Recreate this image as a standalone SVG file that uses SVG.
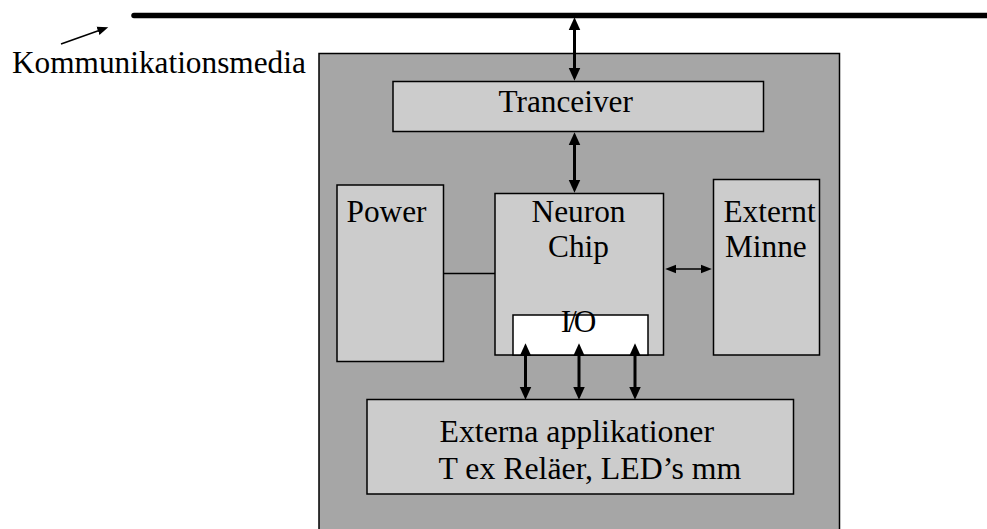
<svg xmlns="http://www.w3.org/2000/svg" width="987" height="529" viewBox="0 0 987 529">
  <style>
    text { font-family: "Liberation Serif", "Times New Roman", serif; font-size: 31.3px; fill: #000; }
    .big { font-size: 31.8px; }
    .outer { fill: #a6a6a6; stroke: #000; stroke-width: 1.5; }
    .box { fill: #cccccc; stroke: #000; stroke-width: 1.5; }
    .io { fill: #ffffff; stroke: #000; stroke-width: 1.5; }
    .thick { stroke: #000; stroke-width: 3; fill: none; }
    .thin { stroke: #000; stroke-width: 1.5; fill: none; }
  </style>
  <defs>
    <marker id="ah" markerUnits="userSpaceOnUse" markerWidth="14" markerHeight="14" viewBox="0 -6 12 12" refX="1" refY="0" orient="auto-start-reverse">
      <path d="M0,-5 L11,0 L0,5 z" fill="#000"/>
    </marker>
    <marker id="ahs" markerUnits="userSpaceOnUse" markerWidth="12" markerHeight="12" viewBox="0 -5 11 10" refX="1" refY="0" orient="auto-start-reverse">
      <path d="M0,-4 L10,0 L0,4 z" fill="#000"/>
    </marker>
  </defs>

  <g id="bus">
    <line x1="134" y1="15.5" x2="990" y2="15.5" stroke="#000" stroke-width="5.5" stroke-linecap="round"/>
  </g>

  <g id="label-media">
    <line x1="61" y1="44" x2="99" y2="30.5" class="thin" stroke-width="2" marker-end="url(#ahs)"/>
    <text x="12" y="73" font-size="31.5">Kommunikationsmedia</text>
  </g>

  <g id="node-device">
    <rect class="outer" x="319" y="53.5" width="520.5" height="500"/>
  </g>

  <g id="node-tranceiver">
    <rect class="box" x="393" y="81.5" width="370.5" height="50"/>
    <text x="498.5" y="111.5" font-size="30">Tranceiver</text>
  </g>

  <g id="node-power">
    <rect class="box" x="337" y="185" width="106.5" height="176.5"/>
    <text x="346.5" y="221.5">Power</text>
  </g>

  <g id="node-neuron">
    <rect class="box" x="495" y="193.5" width="168.5" height="161.5"/>
    <text x="578.5" y="221.5" text-anchor="middle">Neuron</text>
    <text x="578.5" y="257" text-anchor="middle">Chip</text>
  </g>

  <g id="node-io">
    <rect class="io" x="513" y="315" width="135" height="40"/>
    <text x="577" y="331.5" text-anchor="middle" letter-spacing="-3">I/O</text>
  </g>

  <g id="node-minne">
    <rect class="box" x="713.5" y="179.5" width="106" height="175.5"/>
    <text x="723.5" y="221.5">Externt</text>
    <text x="725" y="257">Minne</text>
  </g>

  <g id="node-externa">
    <rect class="box" x="367" y="399.5" width="426.5" height="94.5"/>
    <text class="big" x="439.5" y="441.5">Externa applikationer</text>
    <text class="big" x="438.5" y="479">T ex Reläer, LED’s mm</text>
  </g>

  <g id="connectors">
    <line class="thick" x1="574.5" y1="29" x2="574.5" y2="69" marker-start="url(#ah)" marker-end="url(#ah)"/>
    <line class="thick" x1="574.5" y1="144" x2="574.5" y2="181" marker-start="url(#ah)" marker-end="url(#ah)"/>
    <line class="thin" x1="443.5" y1="273.5" x2="495" y2="273.5"/>
    <line class="thin" x1="675" y1="269" x2="702" y2="269" marker-start="url(#ahs)" marker-end="url(#ahs)"/>
    <line class="thick" x1="525.5" y1="355" x2="525.5" y2="388" marker-start="url(#ah)" marker-end="url(#ah)"/>
    <line class="thick" x1="579" y1="355" x2="579" y2="388" marker-start="url(#ah)" marker-end="url(#ah)"/>
    <line class="thick" x1="635" y1="355" x2="635" y2="388" marker-start="url(#ah)" marker-end="url(#ah)"/>
  </g>
</svg>
